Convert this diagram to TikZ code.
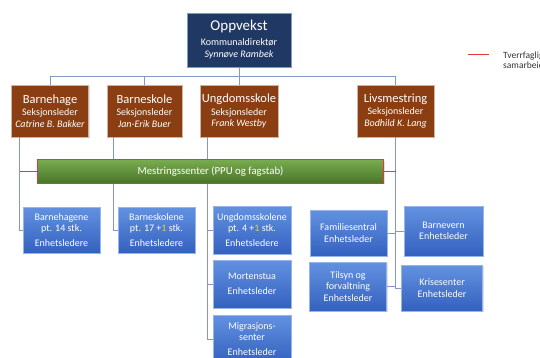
\documentclass[tikz,border=0pt]{standalone}
\usepackage{fontspec}
\setmainfont{Carlito}
\usetikzlibrary{shadows}
\definecolor{navy}{HTML}{203864}
\definecolor{brownbox}{HTML}{8B3E12}
\definecolor{connc}{HTML}{8497C9}
\definecolor{lineRed}{rgb}{0.90,0.22,0.21}
\definecolor{plusc}{HTML}{C6E33A}
\definecolor{blueTop}{rgb}{0.39,0.57,0.88}
\definecolor{blueBot}{rgb}{0.20,0.38,0.75}
\definecolor{blueEdge}{rgb}{0.59,0.71,0.91}
\definecolor{greenTop}{rgb}{0.47,0.67,0.31}
\definecolor{greenBot}{rgb}{0.29,0.46,0.16}
\tikzset{
  base/.style={inner sep=0pt, align=center, text=white, font=\fontsize{10}{11.5}\selectfont,
    drop shadow={shadow xshift=1pt, shadow yshift=-1pt, opacity=0.25}},
  topbox/.style={base, fill=navy, draw=connc, line width=0.8pt, minimum width=104pt, minimum height=54pt},
  brbox/.style={base, fill=brownbox, draw=brownbox!40!white, line width=0.6pt, minimum width=77pt, minimum height=52pt, font=\fontsize{10}{11.5}\selectfont},
  bluebox/.style={base, top color=blueTop, bottom color=blueBot, draw=blueEdge, line width=0.6pt, minimum width=78pt, minimum height=47pt},
  greenbar/.style={base, top color=greenTop, bottom color=greenBot, draw=lineRed, line width=1pt, minimum width=346pt, minimum height=23pt, font=\fontsize{10.8}{12}\selectfont},
  conn/.style={draw=connc, line width=0.8pt},
  redline/.style={draw=lineRed, line width=1pt}
}
\newcommand{\plusone}{+\textcolor{plusc}{1}}
\newcommand{\ttlfont}{\fontsize{12.5}{14}\selectfont}
\begin{document}
\begin{tikzpicture}[x=1pt,y=-1pt]
\useasboundingbox (0,0) rectangle (540,358);
\clip (0,0) rectangle (540,358);
% top
\node[topbox] (top) at (239,40) {{\fontsize{15}{16}\selectfont Oppvekst}\\[3pt]Kommunaldirektør\\[1pt]\textit{Synnøve Rambek}};
% level 2
\node[brbox] (bh) at (50,111) {{\ttlfont Barnehage}\\[1pt]Seksjonsleder\\\textit{Catrine B. Bakker}};
\node[brbox, minimum width=75pt] (bs) at (144.5,111) {{\ttlfont Barneskole}\\[1pt]Seksjonsleder\\\textit{Jan-Erik Buer}};
\node[brbox, minimum width=78pt] (us) at (239,111) {{\ttlfont Ungdomsskole}\\[1pt]Seksjonsleder\\\textit{Frank Westby}};
\node[brbox] (lm) at (395.5,111) {{\ttlfont Livsmestring}\\[1pt]Seksjonsleder\\\textit{Bodhild K. Lang}};
% level 3
\node[bluebox, minimum width=77pt, minimum height=46pt] (bhe) at (61.5,230) {Barnehagene\\pt. 14 stk.\\[3pt]Enhetsledere};
\node[bluebox, minimum width=77pt, minimum height=46pt] (bse) at (156.5,230) {Barneskolene\\pt. 17 \plusone{} stk.\\[3pt]Enhetsledere};
\node[bluebox, minimum height=48pt] (use) at (252,230) {Ungdomsskolene\\pt. 4 \plusone{} stk.\\[3pt]Enhetsledere};
\node[bluebox, minimum height=48pt] (mor) at (252,284) {Mortenstua\\[3pt]Enhetsleder};
\node[bluebox, minimum height=48pt] (mig) at (252,339) {Migrasjons-\\senter\\[3pt]Enhetsleder};
\node[bluebox, minimum width=77pt, minimum height=46pt] (fam) at (348.5,233) {Familiesentral\\Enhetsleder};
\node[bluebox, minimum width=77pt, minimum height=49pt] (til) at (348,286.5) {Tilsyn og\\forvaltning\\Enhetsleder};
\node[bluebox, minimum width=79pt, minimum height=50pt] (bv) at (443.5,231) {Barnevern\\Enhetsleder};
\node[bluebox, minimum width=81pt, minimum height=46pt] (kri) at (442,288) {Krisesenter\\Enhetsleder};
% connectors top
\draw[conn] (top.south) -- ++(0,9) coordinate (bus);
\draw[conn] (bh.north) |- (bus) -| (lm.north);
\draw[conn] (bs.north) -- (bs.north |- bus);
\draw[conn] (us.north) -- (us.north |- bus);
% connectors lower
\draw[conn] ([xshift=8.5pt]bh.south west) |- (bhe.west);
\draw[conn] ([xshift=7pt]bs.south west) |- (bse.west);
\draw[conn] ([xshift=8pt]us.south west) |- (mig.west);
\draw[conn] ([xshift=8pt]us.south west) |- (use.west);
\draw[conn] ([xshift=8pt]us.south west) |- (mor.west);
\draw[conn] (lm.south) |- (kri.west);
\draw[conn] (fam.east) -| (lm.south);
\draw[conn] (bv.west) -| (lm.south);
\draw[conn] (til.east) -| (lm.south);
% green bar
\node[greenbar] (mest) at (210.5,171.5) {Mestringssenter (PPU og fagstab)};
\draw[redline] ([xshift=8.5pt]bh.south west |- mest.west) -- (mest.west);
\draw[redline] (mest.east) -- (lm.south |- mest.east);
% legend
\coordinate (lgA) at (468,55);
\coordinate (lgB) at (489,55);
\draw[redline] (lgA) -- (lgB);
\node[anchor=west, align=left, inner sep=0pt, text=black!80, font=\fontsize{9.5}{10.5}\selectfont] (lgt) at (503,60) {Tverrfaglig\\samarbeid};
\end{tikzpicture}
\end{document}
